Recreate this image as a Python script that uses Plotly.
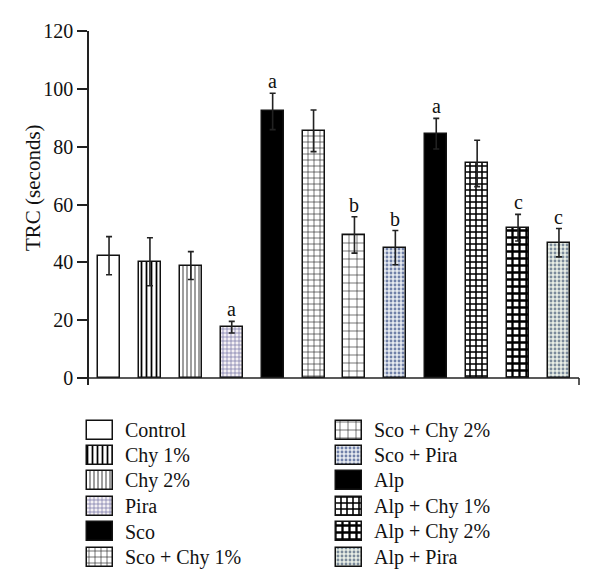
import plotly.graph_objects as go

categories = ["Control", "Chy 1%", "Chy 2%", "Pira", "Sco", "Sco + Chy 1%",
              "Sco + Chy 2%", "Sco + Pira", "Alp", "Alp + Chy 1%", "Alp + Chy 2%", "Alp + Pira"]
values = [42.3, 40.2, 38.9, 17.6, 92.2, 85.5, 49.5, 45.1, 84.5, 74.2, 52.0, 46.8]
errors = [6.6, 8.3, 4.8, 2.0, 6.3, 7.2, 6.3, 5.9, 5.3, 8.0, 4.6, 4.9]
sig_labels = ["", "", "", "a", "a", "", "b", "b", "a", "", "c", "c"]
y_ticks = [0, 20, 40, 60, 80, 100, 120]

# styles per group
colors = ["white", "white", "white", "white", "black", "white",
          "white", "white", "black", "white", "white", "white"]
p_shape = ["", "|", "|", "+", "", "+", "+", ".", "", "+", "+", "."]
p_fg = ["black", "black", "#222", "#6a6aa0", "black", "#222",
        "#222", "#7080a8", "black", "black", "black", "#7a8a9a"]
p_bg = ["white", "white", "white", "#f4f0f4", "black", "white",
        "white", "#e6eaf0", "black", "white", "white", "#e8eee6"]
p_size = [8, 5, 4, 4, 8, 6, 8, 4, 7, 6, 7, 4]
p_sol = [0.3, 0.35, 0.22, 0.3, 0.3, 0.2, 0.15, 0.4, 0.3, 0.45, 0.55, 0.4]

FONT = "Liberation Serif"
OFF = 8  # page body margin
FW, FH = 600 - 2 * OFF, 588 - 2 * OFF


def marker_for(i):
    m = dict(color=colors[i], line=dict(color="#111", width=1.5))
    if p_shape[i]:
        m["pattern"] = dict(shape=p_shape[i], fgcolor=p_fg[i], bgcolor=p_bg[i],
                            size=p_size[i], solidity=p_sol[i], fillmode="replace")
    return m


fig = go.Figure()
for i, name in enumerate(categories):
    fig.add_trace(go.Bar(
        x=[i], y=[values[i]], width=0.54, name=name,
        marker=marker_for(i),
        error_y=dict(type="data", array=[errors[i]], visible=True, color="#222",
                     thickness=1.6, width=3),
        showlegend=False, xaxis="x", yaxis="y",
    ))

for i, lab in enumerate(sig_labels):
    if lab:
        fig.add_annotation(x=i, y=values[i] + errors[i], text=lab, showarrow=False,
                           xref="x", yref="y", yanchor="middle", yshift=12,
                           font=dict(family=FONT, size=20, color="#111"))

# page-pixel geometry
L, R, T, B = 72, 13, 23, 5
W, H = FW - L - R, FH - T - B
page_left, page_bottom = L + OFF, OFF + FH - B

# legend drawn in a page-pixel helper axis
n_rows = 6
row0, row_step = 430, 25.4
col_x = [100, 348.5]
text_x = [123, 372]
for i, name in enumerate(categories):
    lx = col_x[i // n_rows]
    ly = row0 + (i % n_rows) * row_step
    fig.add_trace(go.Bar(
        x=[lx], y=[19], base=[ly - 9.5], width=26,
        marker=marker_for(i),
        showlegend=False, xaxis="x2", yaxis="y2", hoverinfo="skip",
    ))
    fig.add_annotation(x=text_x[i // n_rows], y=ly, text=name, showarrow=False,
                       xref="x2", yref="y2", xanchor="left", yanchor="middle",
                       font=dict(family=FONT, size=20, color="#111"))

# y axis title
fig.add_annotation(x=(33 - page_left) / W, y=(page_bottom - 188) / H, xref="paper",
                   yref="paper", text="TRC (seconds)", textangle=-90, showarrow=False,
                   xanchor="center", yanchor="middle",
                   font=dict(family=FONT, size=21, color="#111"))

# x axis baseline at 0 and right end tick
fig.add_shape(type="line", xref="x domain", yref="y", x0=0, x1=1, y0=0, y1=0,
              line=dict(color="#222", width=1.5))
fig.add_shape(type="line", xref="x domain", yref="y", x0=1, x1=1, y0=0, y1=-2.4,
              line=dict(color="#222", width=1.5))

fig.update_layout(
    width=FW, height=FH, margin=dict(l=L, r=R, t=T, b=B, autoexpand=False),
    plot_bgcolor="white", paper_bgcolor="white",
    font=dict(family=FONT, size=20, color="#222"),
    xaxis=dict(domain=[(89 - page_left) / W, 1], range=[-0.49, 11.49], showline=False,
               showticklabels=False, ticks="", showgrid=False, zeroline=False,
               fixedrange=True, automargin=False),
    yaxis=dict(domain=[(page_bottom - 385) / H, 1], range=[-2.4, 120], tickvals=y_ticks,
               showline=True, linecolor="#222", linewidth=1.5, ticks="outside",
               ticklen=10, tickwidth=1.5, tickcolor="#222", showgrid=False,
               zeroline=False, tickfont=dict(family=FONT, size=20, color="#111"),
               automargin=False),
    xaxis2=dict(domain=[0, 1], range=[page_left, page_left + W], visible=False,
                fixedrange=True, automargin=False),
    yaxis2=dict(domain=[0, (page_bottom - 410) / H], range=[page_bottom, 410],
                visible=False, anchor="x2", fixedrange=True, automargin=False),
    barmode="overlay", bargap=0,
)

fig.write_html("out.html")
